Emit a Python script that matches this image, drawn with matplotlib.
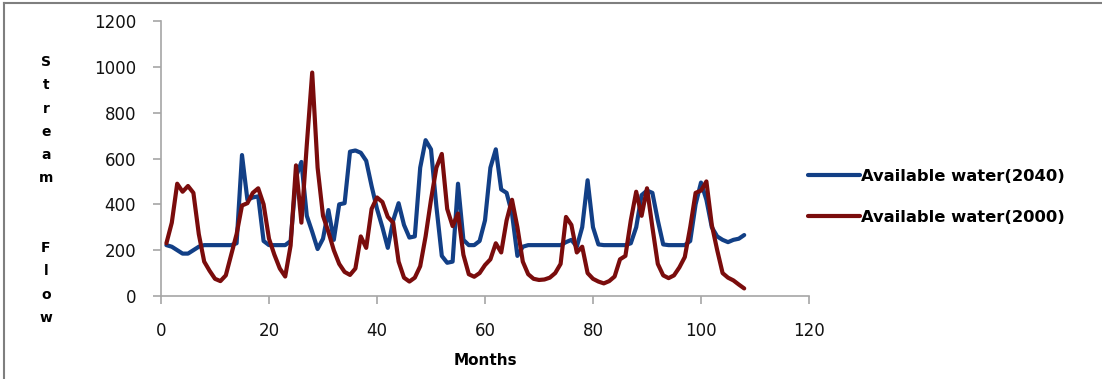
import matplotlib
matplotlib.use("Agg")
import matplotlib.pyplot as plt
from matplotlib.lines import Line2D

months = list(range(1, 109))

water_2040 = [
    222, 215, 200, 185, 185, 200, 215, 222, 222, 222,
    222, 222, 222, 230, 615, 420, 430, 435, 240, 222,
    222, 222, 222, 240, 520, 585, 350, 280, 205, 250,
    375, 245, 400, 405, 630, 635, 625, 590, 480, 380,
    300, 210, 330, 405, 310, 255, 260, 560, 680, 640,
    390, 175, 145, 150, 490, 245, 222, 222, 240, 330,
    560, 640, 465, 450, 360, 175, 215, 222, 222, 222,
    222, 222, 222, 222, 235, 245, 215, 300, 505, 300,
    225, 222, 222, 222, 222, 222, 230, 300, 440, 460,
    450, 330, 225, 222, 222, 222, 222, 240, 400, 495,
    420, 300, 260, 245, 235, 245, 250, 266,
]

water_2000 = [
    230, 320, 490, 455, 480, 450, 270, 150, 110, 75,
    65, 90, 180, 270, 395, 405, 450, 470, 400, 250,
    180, 120, 85, 220, 570, 320, 660, 975, 560, 350,
    280, 200, 140, 105, 92, 120, 260, 210, 380, 430,
    410, 345, 320, 150, 80, 63, 80, 130, 260, 420,
    560, 620, 380, 305, 360, 180, 95, 84, 100, 135,
    160, 230, 190, 330, 420, 300, 150, 95, 75, 70,
    72, 80, 100, 140, 345, 310, 190, 215, 100, 75,
    63, 55, 65, 85, 160, 175, 330, 455, 350, 470,
    300, 140, 90, 78, 90, 125, 170, 300, 450, 460,
    500, 310, 200, 100, 80, 68, 50, 33,
]

series_labels = ["Available water(2040)", "Available water(2000)"]
x_ticks = [0, 20, 40, 60, 80, 100, 120]
y_ticks = [0, 200, 400, 600, 800, 1000, 1200]

blue = "#123f86"
red = "#7a0c0c"
grey = "#a6a6a6"

fig = plt.figure(figsize=(11.02, 3.79), dpi=100)
ax = fig.add_axes([161 / 1102, 83 / 379, (809 - 161) / 1102, (296 - 21) / 379])

ax.plot(months, water_2040, color=blue, lw=3, solid_joinstyle="round",
        solid_capstyle="round", label=series_labels[0])
ax.plot(months, water_2000, color=red, lw=3, solid_joinstyle="round",
        solid_capstyle="round", label=series_labels[1])

ax.set_xlim(0, 120)
ax.set_ylim(0, 1200)
ax.set_xticks(x_ticks)
ax.set_yticks(y_ticks)
ax.set_xticklabels([str(t) for t in x_ticks])
ax.set_yticklabels([str(t) for t in y_ticks])
for s in ["top", "right"]:
    ax.spines[s].set_visible(False)
for s in ["left", "bottom"]:
    ax.spines[s].set_color(grey)
    ax.spines[s].set_linewidth(1.2)
ax.tick_params(axis="both", direction="out", length=6, width=1.2, color=grey,
               labelsize=12, labelcolor="#111111")
ax.tick_params(axis="x", pad=13)
ax.tick_params(axis="y", pad=12)

ax.set_xlabel("Months", fontsize=11, fontweight="bold", labelpad=9)

fig.text(46 / 1102, 1 - 190 / 379, "\n".join("Stream  Flow".replace("  ", "\n")),
         ha="center", va="center", fontsize=10, fontweight="bold",
         linespacing=1.84)

fig.legend(loc="center left", bbox_to_anchor=(793 / 1102, 1 - 197 / 379),
           frameon=False, handlelength=3.2, handletextpad=0.05,
           labelspacing=1.6, prop={"weight": "bold", "size": 11.8})

# figure border (top and left)
fig.add_artist(Line2D([4 / 1102, 1.0], [1 - 3 / 379, 1 - 3 / 379],
                      transform=fig.transFigure, color="#7f7f7f", lw=1.5))
fig.add_artist(Line2D([4 / 1102, 4 / 1102], [0.0, 1 - 3 / 379],
                      transform=fig.transFigure, color="#7f7f7f", lw=1.5))

fig.savefig("out.png", dpi=100)
